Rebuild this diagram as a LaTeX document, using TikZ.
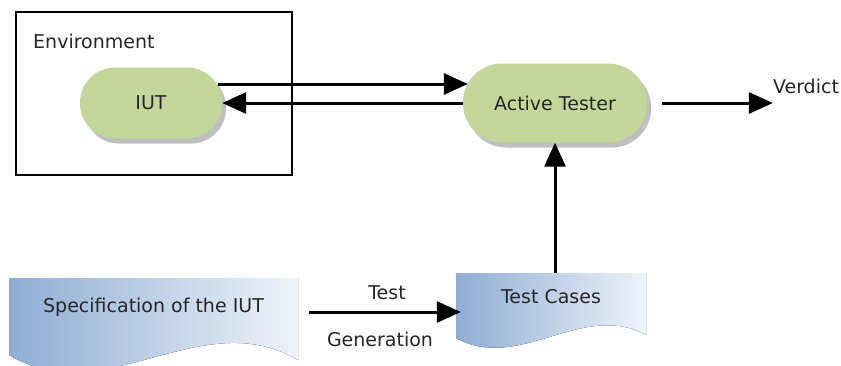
\documentclass[tikz,border=0pt]{standalone}
\usepackage{fontspec}
\setmainfont{DejaVu Sans}
\usetikzlibrary{arrows.meta,shadows}
\definecolor{unitgreen}{HTML}{C4D79B}
\definecolor{docblue}{HTML}{8FADD4}
\definecolor{docwhite}{HTML}{EEF3FA}
\begin{document}
\begin{tikzpicture}[x=1pt,y=-1pt,
    unit/.style={fill=unitgreen, drop shadow={opacity=0.5,shadow xshift=4pt,shadow yshift=-5pt}},
    arr/.style={-{Triangle[length=24pt,width=21pt]}, line width=3pt}]
    \tikzstyle{every node}=[font=\fontsize{19}{23}\selectfont, text=black!85, inner sep=0pt]
    \useasboundingbox (0,0) rectangle (841,365);
    \fill[left color=docblue, right color=docwhite] (9,278) -- (298,278) -- (298,360)
      .. controls (201,303) and (105,412) .. (9,355) -- cycle;
    \fill[left color=docblue, right color=docwhite] (456,273) -- (646,273) -- (646,335)
      .. controls (583,300) and (519,373) .. (456,338) -- cycle;
    \node[draw, line width=2.5pt, minimum width=276pt, minimum height=163pt] (env) at (154,93.5) {};
    \node[anchor=west] (envlbl) at (33,41) {Environment};
    \node[unit, minimum width=142pt, minimum height=71pt, rounded corners=35pt] (iut) at (151,103) {IUT};
    \node[unit, minimum width=184pt, minimum height=79pt, rounded corners=39pt] (tester) at (555,103) {Active Tester};
    \node (verdict) at (806,86) {Verdict};
    \node[minimum width=289pt, minimum height=58pt] (spec) at (153.5,307) {Specification of the IUT};
    \node[minimum width=190pt, minimum height=48pt] (cases) at (551,297) {Test Cases};
    \node (testlbl) at (387,293) {Test};
    \node (genlbl) at (380,339) {Generation};
    \draw[arr] ([shift={(-4pt,19pt)}]iut.east) -- ([shift={(5pt,19pt)}]tester.west);
    \draw[arr] (tester.west) -- (iut.east);
    \draw[arr] ([xshift=15pt]tester.east) -- (verdict.west |- tester.east);
    \draw[arr] (cases.north -| tester.south) -- (tester.south);
    \draw[arr] ([shift={(11pt,-5pt)}]spec.east) -- ([shift={(5pt,-15pt)}]cases.west);
  \end{tikzpicture}
\end{document}
